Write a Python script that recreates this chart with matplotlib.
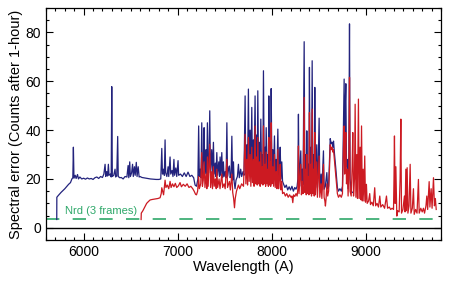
import matplotlib
matplotlib.use("Agg")
import matplotlib.pyplot as plt
from matplotlib.ticker import MultipleLocator

# spectral error: (wavelength A, counts)
blue_points = [
    (5714, 3.4), (5715, 12.5), (5730, 13.2), (5760, 14.5), (5800, 16.0), (5840, 17.8),
    (5860, 18.5), (5875, 20.0), (5885, 20.5), (5891, 33.0), (5897, 20.3), (5910, 21.5),
    (5920, 20.2), (5935, 21.8), (5945, 20.0), (5960, 20.8), (5980, 20.0), (6000, 20.3),
    (6020, 19.9), (6040, 20.4), (6060, 20.0), (6080, 20.2), (6100, 19.8), (6120, 20.5),
    (6140, 20.8), (6160, 20.2), (6180, 21.0), (6200, 20.6), (6215, 22.0), (6228, 26.0),
    (6235, 21.0), (6245, 23.0), (6255, 21.2), (6263, 26.0), (6270, 21.5), (6285, 22.0),
    (6293, 20.8), (6299, 57.8), (6305, 21.0), (6320, 21.5), (6334, 24.0), (6340, 20.8),
    (6352, 21.2), (6362, 37.4), (6368, 21.0), (6385, 20.5), (6400, 20.6), (6420, 20.0),
    (6440, 21.0), (6460, 20.8), (6473, 25.5), (6480, 20.5), (6490, 27.0), (6497, 21.0),
    (6510, 22.5), (6520, 26.0), (6528, 21.0), (6540, 25.0), (6548, 21.5), (6560, 26.8),
    (6568, 21.0), (6580, 25.0), (6590, 20.8), (6600, 21.0), (6620, 20.6), (6650, 20.4),
    (6680, 20.2), (6710, 20.0), (6740, 19.9), (6770, 19.8), (6800, 19.8), (6820, 20.0),
    (6831, 32.5), (6838, 22.0), (6850, 24.0), (6858, 21.5), (6866, 36.0), (6872, 22.5),
    (6885, 21.0), (6898, 25.0), (6905, 21.0), (6919, 29.0), (6926, 22.0), (6940, 23.5),
    (6950, 21.0), (6960, 28.0), (6967, 21.5), (6980, 24.5), (6990, 21.0), (7004, 27.5),
    (7010, 21.5), (7030, 22.0), (7050, 21.0), (7070, 22.5), (7090, 21.0), (7110, 22.8),
    (7130, 21.0), (7150, 21.5), (7170, 20.5), (7185, 17.5), (7200, 17.0), (7215, 20.0),
    (7223, 41.7), (7230, 21.0), (7240, 24.0), (7248, 20.5), (7256, 43.0), (7263, 21.5),
    (7273, 27.0), (7281, 41.0), (7288, 22.0), (7296, 25.0), (7302, 32.0), (7309, 21.0),
    (7316, 43.0), (7323, 22.0), (7332, 26.0), (7341, 47.9), (7348, 22.5), (7362, 32.0),
    (7370, 21.5), (7380, 35.0), (7388, 22.0), (7400, 26.5), (7407, 21.0), (7416, 30.8),
    (7424, 21.5), (7437, 27.0), (7445, 21.0), (7451, 29.0), (7460, 21.5), (7469, 30.8),
    (7478, 20.5), (7486, 27.0), (7493, 21.0), (7505, 23.0), (7515, 20.5), (7523, 43.0),
    (7530, 21.0), (7540, 24.0), (7550, 25.3), (7558, 20.5), (7568, 22.0), (7576, 37.5),
    (7584, 19.5), (7593, 27.0), (7600, 19.0), (7610, 16.0), (7620, 19.5), (7635, 21.0),
    (7646, 26.0), (7655, 20.5), (7670, 24.0), (7680, 21.0), (7695, 23.0), (7705, 21.5),
    (7717, 54.0), (7724, 22.0), (7735, 34.0), (7743, 23.0), (7752, 56.8), (7760, 24.0),
    (7770, 40.0), (7778, 22.5), (7788, 49.3), (7795, 23.0), (7805, 36.0), (7812, 24.0),
    (7823, 54.0), (7830, 23.0), (7840, 38.0), (7846, 22.0), (7852, 56.1), (7860, 24.0),
    (7870, 35.0), (7877, 22.5), (7884, 44.5), (7892, 23.0), (7900, 30.0), (7906, 22.0),
    (7912, 64.3), (7920, 23.5), (7930, 33.0), (7935, 22.0), (7941, 41.0), (7950, 24.0),
    (7960, 30.0), (7964, 22.5), (7969, 54.0), (7977, 23.0), (7985, 35.0), (7989, 22.0),
    (7994, 57.0), (8002, 23.5), (8012, 32.0), (8020, 22.0), (8029, 37.6), (8037, 21.5),
    (8047, 28.0), (8055, 21.0), (8065, 40.4), (8073, 21.0), (8082, 25.0), (8090, 33.0),
    (8098, 20.0), (8107, 27.0), (8115, 19.0), (8125, 18.0), (8140, 16.5), (8155, 17.5),
    (8170, 15.5), (8185, 16.8), (8200, 15.5), (8215, 17.0), (8230, 15.0), (8245, 16.5),
    (8258, 15.8), (8270, 17.0), (8278, 20.0), (8284, 46.5), (8290, 18.0), (8300, 25.0),
    (8309, 31.5), (8316, 17.0), (8325, 24.0), (8333, 17.5), (8345, 76.2), (8352, 18.0),
    (8362, 30.0), (8367, 17.0), (8373, 39.7), (8380, 18.0), (8390, 26.0), (8395, 17.5),
    (8401, 65.7), (8408, 18.0), (8418, 33.0), (8423, 17.0), (8430, 68.4), (8437, 18.0),
    (8447, 30.0), (8452, 17.0), (8458, 57.5), (8465, 17.5), (8479, 34.0), (8486, 16.5),
    (8494, 25.0), (8504, 44.9), (8511, 16.0), (8525, 22.0), (8533, 15.5), (8550, 31.5),
    (8557, 15.8), (8570, 17.0), (8586, 22.6), (8595, 16.0), (8605, 17.0), (8615, 28.0),
    (8622, 36.5), (8632, 34.5), (8640, 35.0), (8650, 33.0), (8657, 35.5), (8668, 30.0),
    (8682, 24.0), (8698, 16.5), (8710, 15.0), (8725, 16.0), (8740, 15.0), (8752, 17.0),
    (8758, 30.0), (8764, 47.0), (8770, 60.9), (8776, 30.0), (8782, 50.0), (8788, 59.0),
    (8795, 25.0), (8805, 28.0), (8812, 16.0), (8820, 30.0), (8827, 83.5), (8833, 20.0),
    (8845, 15.0), (8858, 14.5),
]

red_points = [
    (6611, 3.4), (6613, 6.0), (6630, 7.0), (6650, 8.5), (6670, 10.0), (6690, 10.8),
    (6707, 11.4), (6730, 11.6), (6760, 11.8), (6790, 12.0), (6813, 12.3), (6825, 14.0),
    (6831, 16.4), (6840, 15.0), (6850, 13.5), (6860, 17.0), (6866, 19.5), (6875, 16.5),
    (6890, 17.5), (6905, 16.0), (6919, 19.0), (6930, 16.5), (6945, 18.0), (6960, 16.8),
    (6975, 18.2), (6990, 16.5), (7008, 17.2), (7025, 18.5), (7040, 16.8), (7060, 17.8),
    (7080, 17.0), (7100, 18.0), (7120, 16.5), (7140, 17.0), (7160, 16.0), (7175, 15.0),
    (7190, 13.7), (7200, 13.5), (7212, 15.0), (7223, 21.0), (7230, 16.0), (7245, 18.0),
    (7256, 30.8), (7263, 17.0), (7272, 19.5), (7281, 27.0), (7290, 16.5), (7302, 22.0),
    (7310, 16.0), (7316, 29.0), (7324, 17.0), (7341, 34.2), (7350, 16.5), (7362, 23.0),
    (7370, 16.0), (7380, 25.0), (7388, 17.0), (7400, 20.0), (7410, 16.0), (7416, 24.0),
    (7425, 16.5), (7440, 20.0), (7450, 16.0), (7469, 22.0), (7478, 16.5), (7493, 18.0),
    (7505, 16.0), (7523, 28.0), (7530, 16.5), (7550, 19.0), (7560, 15.5), (7576, 22.0),
    (7585, 14.5), (7595, 12.0), (7604, 8.2), (7612, 12.0), (7625, 15.0), (7646, 17.5),
    (7660, 16.0), (7680, 18.0), (7700, 17.0), (7717, 38.3), (7725, 18.0), (7735, 28.0),
    (7743, 17.5), (7752, 37.0), (7760, 19.0), (7770, 30.0), (7778, 17.0), (7788, 33.0),
    (7795, 18.5), (7805, 28.0), (7812, 17.0), (7823, 41.7), (7830, 18.0), (7840, 29.0),
    (7846, 17.5), (7852, 37.0), (7860, 18.0), (7870, 27.0), (7877, 17.0), (7884, 31.0),
    (7892, 18.0), (7900, 25.0), (7906, 17.5), (7912, 41.7), (7920, 18.0), (7930, 26.0),
    (7935, 17.0), (7941, 31.0), (7950, 18.0), (7960, 24.0), (7964, 17.0), (7969, 37.0),
    (7977, 17.5), (7985, 27.0), (7989, 17.0), (7994, 43.0), (8002, 18.0), (8012, 25.0),
    (8020, 17.0), (8029, 30.0), (8037, 16.5), (8047, 23.0), (8055, 16.0), (8065, 32.0),
    (8073, 16.0), (8082, 20.0), (8090, 26.0), (8098, 15.5), (8107, 19.0), (8115, 14.0),
    (8130, 14.5), (8145, 13.0), (8160, 14.0), (8175, 12.5), (8190, 13.5), (8205, 12.5),
    (8215, 13.0), (8224, 10.3), (8232, 13.5), (8245, 12.8), (8258, 14.0), (8270, 13.0),
    (8278, 16.0), (8284, 33.5), (8290, 14.0), (8300, 20.0), (8309, 26.0), (8316, 13.5),
    (8325, 19.0), (8333, 14.0), (8345, 53.4), (8352, 14.5), (8362, 24.0), (8367, 13.5),
    (8373, 30.0), (8380, 14.0), (8390, 21.0), (8395, 13.5), (8401, 47.2), (8408, 14.0),
    (8418, 26.0), (8423, 13.0), (8430, 48.6), (8437, 14.0), (8447, 24.0), (8452, 13.0),
    (8458, 39.0), (8465, 13.5), (8479, 27.0), (8486, 12.5), (8494, 20.0), (8504, 29.4),
    (8511, 12.5), (8525, 18.0), (8533, 12.0), (8550, 26.0), (8557, 12.5), (8565, 11.0),
    (8571, 8.9), (8578, 12.0), (8586, 18.0), (8595, 13.0), (8605, 15.0), (8615, 25.0),
    (8622, 34.0), (8632, 32.0), (8640, 33.0), (8650, 31.0), (8657, 32.0), (8668, 27.0),
    (8682, 21.0), (8698, 14.0), (8710, 12.5), (8725, 13.5), (8740, 12.5), (8752, 14.0),
    (8758, 25.0), (8764, 35.0), (8770, 41.7), (8776, 22.0), (8782, 32.0), (8788, 39.0),
    (8795, 18.0), (8805, 24.0), (8812, 13.0), (8820, 24.0), (8827, 61.6), (8833, 15.0),
    (8845, 13.0), (8855, 25.0), (8862, 39.0), (8870, 13.0), (8880, 20.0), (8887, 50.6),
    (8895, 12.5), (8905, 30.0), (8912, 12.0), (8922, 52.7), (8930, 12.0), (8940, 33.0),
    (8947, 11.5), (8955, 41.7), (8963, 11.0), (8972, 24.0), (8980, 11.0), (8989, 29.4),
    (8997, 10.5), (9007, 17.8), (9015, 10.0), (9030, 11.0), (9042, 14.0), (9050, 9.5),
    (9065, 10.5), (9080, 9.0), (9095, 16.4), (9105, 9.0), (9120, 10.0), (9135, 8.5),
    (9149, 13.0), (9160, 8.5), (9180, 9.5), (9200, 8.0), (9220, 13.0), (9232, 8.0),
    (9250, 8.5), (9265, 7.5), (9280, 8.0), (9295, 7.5), (9300, 20.0), (9305, 37.6),
    (9312, 10.0), (9320, 25.0), (9330, 4.8), (9340, 7.0), (9355, 6.5), (9365, 20.0),
    (9373, 44.5), (9380, 6.0), (9395, 7.5), (9411, 13.0), (9418, 6.5), (9426, 24.0),
    (9432, 7.0), (9440, 24.6), (9448, 6.0), (9460, 9.0), (9472, 26.0), (9480, 6.0),
    (9495, 8.0), (9507, 16.0), (9515, 5.5), (9530, 7.5), (9545, 6.0), (9560, 19.8),
    (9568, 6.0), (9585, 8.0), (9600, 6.5), (9613, 8.0), (9625, 6.0), (9640, 9.0),
    (9649, 13.0), (9658, 7.5), (9674, 18.9), (9682, 8.5), (9695, 16.0), (9705, 8.0),
    (9720, 20.5), (9730, 9.0), (9740, 12.0), (9749, 7.5),
]

nrd_level = 3.4
nrd_label = "Nrd (3 frames)"
wl_range = (5600, 9800)
err_range = (-5, 90)

BLUE = "#23237d"
RED = "#cc1a22"
GREEN = "#2fa86a"

plt.rcParams["font.family"] = ["Liberation Sans", "DejaVu Sans"]

fig = plt.figure(figsize=(4.63, 2.90), dpi=100)
ax = fig.add_axes([0.0994, 0.1724, 0.8531, 0.8000])

blue_wl, blue_err = zip(*blue_points)
red_wl, red_err = zip(*red_points)

ax.axhline(0, color="black", lw=1.0, zorder=1)
ax.plot([wl_range[0], 9760], [nrd_level, nrd_level], color=GREEN, lw=1.2,
        dashes=(8, 8), zorder=2)
ax.plot(blue_wl, blue_err, color=BLUE, lw=0.9, zorder=3)
ax.plot(red_wl, red_err, color=RED, lw=0.9, zorder=4)
ax.text(5800, 7.0, nrd_label, color=GREEN, fontsize=8, va="center", ha="left")

ax.set_xlim(*wl_range)
ax.set_ylim(*err_range)
ax.xaxis.set_major_locator(MultipleLocator(1000))
ax.xaxis.set_minor_locator(MultipleLocator(100))
ax.yaxis.set_major_locator(MultipleLocator(20))
ax.yaxis.set_minor_locator(MultipleLocator(5))
ax.tick_params(which="both", direction="in", top=True, right=True, labelsize=10)
ax.tick_params(which="major", length=5, width=0.8)
ax.tick_params(which="minor", length=2.5, width=0.8)
for s in ax.spines.values():
    s.set_linewidth(0.9)

ax.set_xlabel("Wavelength (A)", fontsize=10.5, labelpad=1)
ax.set_ylabel("Spectral error (Counts after 1-hour)", fontsize=10.5, labelpad=2)

fig.savefig("out.png", dpi=100)
